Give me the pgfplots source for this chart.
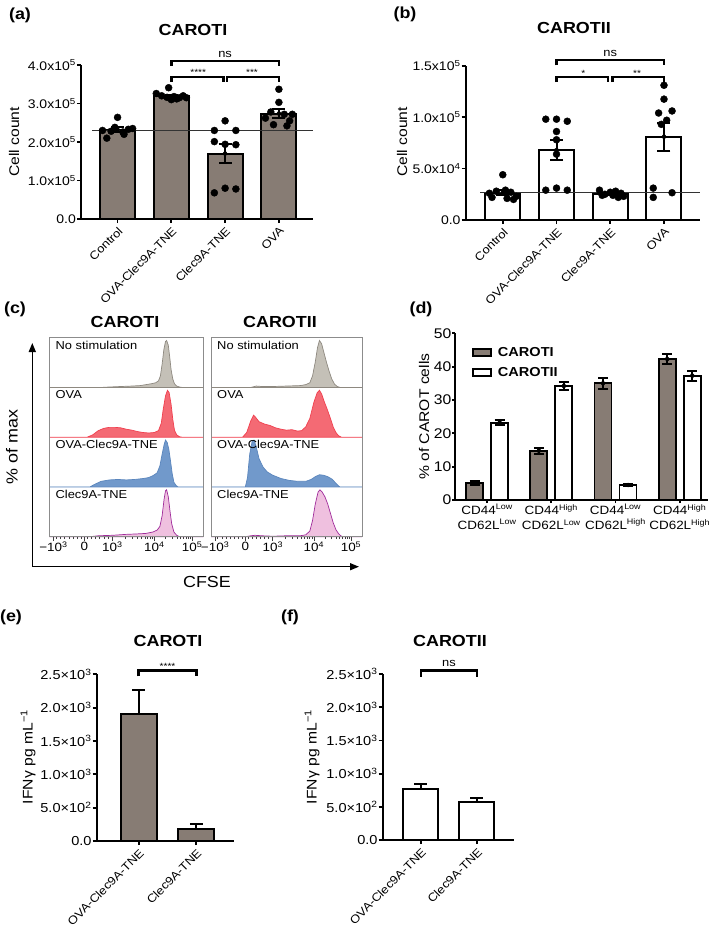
\documentclass[border=0pt]{standalone}
\usepackage{fontspec}
\setmainfont{Liberation Sans}[FakeStretch=1.12]
\usepackage{pgfplots}
\pgfplotsset{compat=1.18}
\usetikzlibrary{arrows.meta}

\definecolor{bargrey}{HTML}{877C74}
\definecolor{hgreyF}{HTML}{C4C0B7}
\definecolor{hgreyL}{HTML}{8E8980}
\definecolor{hredF}{HTML}{F46A74}
\definecolor{hredL}{HTML}{F0404F}
\definecolor{hblueF}{HTML}{7199CB}
\definecolor{hblueL}{HTML}{5B86BD}
\definecolor{hpinkF}{HTML}{EFC0DF}
\definecolor{hpinkL}{HTML}{A02C9B}

\newcommand\tickf{\fontsize{12.5}{14}\selectfont}
\newcommand\rotf{\fontsize{11.5}{13}\selectfont}
\newcommand\labf{\fontsize{14}{16}\selectfont}
\newcommand\titf{\bfseries\fontsize{16}{18}\selectfont}
\newcommand\rowf{\fontsize{11.5}{13}\selectfont}

\pgfplotsset{
  panel/.style={scale only axis, clip=false, axis lines=left,
    axis line style={line width=2.3pt, -},
    every tick/.style={black, line width=1.8pt},
    major tick length=4pt, tick align=outside,
    ticklabel style={font=\tickf},
    yticklabel style={inner xsep=1pt}},
  rotlab/.style={xticklabel style={rotate=45, anchor=north east, inner sep=2pt, font=\rotf}},
  ebar/.style={error bars/.cd, y dir=#1, y explicit,
    error bar style={line width=2pt, black},
    error mark options={rotate=90, line width=2pt, mark size=6.5pt, black}},
  dbar/.style={error bars/.cd, y dir=both, y explicit,
    error bar style={line width=1.8pt, black},
    error mark options={rotate=90, line width=1.8pt, mark size=5pt, black}},
  dots/.style={only marks, mark=*, mark size=3.5pt, black},
}

% one histogram row of panel (c): x, y bottom, width, fill, line, label, data
\newcommand{\histrow}[7]{%
\begin{axis}[scale only axis, hide axis, clip=false, at={(#1pt,-#2pt)}, anchor=south west,
  width=#3pt, height=49.75pt, xmin=-1.25, xmax=4.25, ymin=0, ymax=106]
\addplot[fill=#4, draw=#5, line width=0.7pt] coordinates {#7} \closedcycle;
\node[anchor=north west, inner sep=0pt, font=\rowf] at (rel axis cs:0.04,0.94) {#6};
\end{axis}}

\newcommand{\cframe}[2]{%
\begin{axis}[scale only axis, at={(#1pt,-536.7pt)}, anchor=south west, width=#2pt, height=199pt,
  xmin=-1.25, xmax=4.25, ymin=0, ymax=1,
  axis line style={draw=black!45, line width=0.8pt},
  ytick=\empty, xtick pos=bottom, tick align=outside,
  xtick={-1.1,0,1,2.5,3.85},
  xticklabels={−10\textsuperscript{3},0,10\textsuperscript{3},10\textsuperscript{4},10\textsuperscript{5}},
  minor xtick={-1.0,-0.85,-0.7,-0.55,-0.4,-0.25,-0.12,0.12,0.25,0.4,0.55,0.7,0.85,
    1.45,1.72,1.90,2.05,2.17,2.27,2.35,2.43,2.91,3.14,3.31,3.44,3.55,3.64,3.72,3.79},
  major tick length=4pt, minor tick length=2.5pt,
  every tick/.style={black!75, line width=0.8pt},
  xticklabel style={font=\fontsize{12}{13}\selectfont, inner sep=1pt}]
\end{axis}}

\begin{document}
\begin{tikzpicture}
\path[use as bounding box] (0,0) rectangle (709pt,-930pt);

% ---------------- (a)
\begin{axis}[panel, rotlab, at={(81pt,-219pt)}, anchor=south west, width=232.3pt, height=154pt,
  xmin=-0.68, xmax=3.64, ymin=0, ymax=4,
  xtick={0,1,2,3}, xticklabels={Control,OVA-Clec9A-TNE,Clec9A-TNE,OVA},
  ytick={0,1,2,3,4},
  yticklabels={0.0,1.0x10\textsuperscript{5},2.0x10\textsuperscript{5},3.0x10\textsuperscript{5},4.0x10\textsuperscript{5}}]
\addplot[ybar, bar width=35pt, fill=bargrey, draw=black, line width=2pt]
  coordinates {(0,2.32) (1,3.19) (2,1.70) (3,2.74)};
\addplot[line width=1.3pt, black!80, mark=none] coordinates {(-0.47,2.29) (3.64,2.29)};
\addplot[dots] coordinates {(-0.2,2.10) (0,2.64) (-0.28,2.30) (-0.12,2.28) (0.1,2.26)
  (0.2,2.33) (0.28,2.35) (-0.05,2.38) (0.12,2.20)};
\addplot[dots] coordinates {(0.95,3.41) (0.72,3.26) (1.28,3.15) (0.82,3.20) (0.92,3.16)
  (1.05,3.18) (1.15,3.15) (1.22,3.20) (1,3.10) (1.1,3.12)};
\addplot[dots] coordinates {(2,2.55) (1.8,2.30) (2.2,2.30) (1.8,2.01) (2,1.94) (2.2,1.93)
  (1.8,0.68) (2,0.80) (2.2,0.78)};
\addplot[dots] coordinates {(3,3.37) (3,3.03) (2.85,2.78) (3.25,2.72) (3.1,2.72)
  (2.75,2.62) (3.2,2.55) (2.9,2.45) (3.15,2.42)};
\addplot[only marks, mark=none, ebar=both] coordinates {(0,2.32) +- (0,0.06)
  (1,3.19) +- (0,0.04) (2,1.70) +- (0,0.24) (3,2.74) +- (0,0.12)};
\draw[line width=2.4pt] ([yshift=-5pt]axis cs:1,4.1) -- (axis cs:1,4.1) -- (axis cs:3,4.1) -- ([yshift=-5pt]axis cs:3,4.1);
\draw[line width=2.4pt] ([yshift=-5pt]axis cs:1,3.69) -- (axis cs:1,3.69) -- (axis cs:1.97,3.69) -- ([yshift=-5pt]axis cs:1.97,3.69);
\draw[line width=2.4pt] ([yshift=-5pt]axis cs:2.03,3.69) -- (axis cs:2.03,3.69) -- (axis cs:3,3.69) -- ([yshift=-5pt]axis cs:3,3.69);
\node[font=\fontsize{11.5}{12}\selectfont, anchor=base] at ([yshift=4pt]axis cs:2,4.1) {ns};
\node[font=\fontsize{9}{10}\selectfont, anchor=base] at ([yshift=1pt]axis cs:1.5,3.69) {****};
\node[font=\fontsize{9}{10}\selectfont, anchor=base] at ([yshift=1pt]axis cs:2.5,3.69) {***};
\end{axis}
\node[font=\titf] at (20pt,-15pt) {(a)};
\node[font=\titf] at (193pt,-30pt) {CAROTI};
\node[font=\labf, rotate=90] at (14pt,-142pt) {Cell count};

% ---------------- (b)
\begin{axis}[panel, rotlab, at={(465.7pt,-220pt)}, anchor=south west, width=234.3pt, height=154.3pt,
  xmin=-0.69, xmax=3.67, ymin=0, ymax=1.5,
  xtick={0,1,2,3}, xticklabels={Control,OVA-Clec9A-TNE,Clec9A-TNE,OVA},
  ytick={0,0.5,1,1.5},
  yticklabels={0.0,5.0x10\textsuperscript{4},1.0x10\textsuperscript{5},1.5x10\textsuperscript{5}}]
\addplot[ybar, bar width=35pt, fill=white, draw=black, line width=2pt]
  coordinates {(0,0.267) (1,0.68) (2,0.253) (3,0.81)};
\addplot[line width=1.3pt, black!80, mark=none] coordinates {(-0.42,0.265) (3.67,0.265)};
\addplot[dots] coordinates {(0,0.44) (-0.25,0.26) (-0.12,0.28) (0.05,0.29) (0.15,0.27)
  (0.25,0.23) (-0.2,0.22) (0.08,0.21) (0.2,0.20)};
\addplot[dots] coordinates {(0.8,0.98) (1,0.98) (1.2,0.96) (1,0.86) (1,0.78) (1,0.64)
  (0.8,0.29) (1,0.31) (1.2,0.29)};
\addplot[dots] coordinates {(1.8,0.29) (1.9,0.25) (2,0.27) (2.1,0.28) (2.2,0.26)
  (1.85,0.24) (2.05,0.24) (2.15,0.22) (2.25,0.23)};
\addplot[dots] coordinates {(3,1.31) (3,1.175) (3.15,1.06) (2.9,1.04) (3.05,0.97)
  (2.95,0.93) (2.8,0.31) (3.15,0.265) (2.8,0.22)};
\addplot[only marks, mark=none, ebar=both] coordinates {(0,0.267) +- (0,0.025)
  (1,0.68) +- (0,0.10) (2,0.253) +- (0,0.01) (3,0.81) +- (0,0.135)};
\draw[line width=2.4pt] ([yshift=-5pt]axis cs:1,1.553) -- (axis cs:1,1.553) -- (axis cs:3,1.553) -- ([yshift=-5pt]axis cs:3,1.553);
\draw[line width=2.4pt] ([yshift=-5pt]axis cs:1,1.39) -- (axis cs:1,1.39) -- (axis cs:1.96,1.39) -- ([yshift=-5pt]axis cs:1.96,1.39);
\draw[line width=2.4pt] ([yshift=-5pt]axis cs:2.04,1.39) -- (axis cs:2.04,1.39) -- (axis cs:3,1.39) -- ([yshift=-5pt]axis cs:3,1.39);
\node[font=\fontsize{11.5}{12}\selectfont, anchor=base] at ([yshift=4pt]axis cs:2,1.553) {ns};
\node[font=\fontsize{9}{10}\selectfont, anchor=base] at ([yshift=1pt]axis cs:1.5,1.39) {*};
\node[font=\fontsize{9}{10}\selectfont, anchor=base] at ([yshift=1pt]axis cs:2.5,1.39) {**};
\end{axis}
\node[font=\titf] at (405pt,-14pt) {(b)};
\node[font=\titf] at (574pt,-28pt) {CAROTII};
\node[font=\labf, rotate=90] at (402pt,-142pt) {Cell count};

% ---------------- (c)
\histrow{49.3}{387.45}{154}{hgreyF}{hgreyL}{No stimulation}{(-1.25,0) (0.6,0) (0.9,1) (1.3,2) (1.7,3) (2.0,4) (2.2,6) (2.4,8) (2.55,10) (2.65,14) (2.72,25) (2.78,50) (2.84,80) (2.9,98) (2.94,100) (3.0,90) (3.05,65) (3.1,38) (3.16,18) (3.22,8) (3.3,3) (3.4,1) (3.5,0) (4.25,0)}
\histrow{49.3}{437.2}{154}{hredF}{hredL}{OVA}{(-1.25,0) (0.1,0) (0.3,5) (0.5,14) (0.7,19) (0.9,21) (1.1,21) (1.3,20) (1.5,17) (1.7,15) (1.9,12) (2.1,10) (2.3,9) (2.5,10) (2.65,14) (2.75,30) (2.82,60) (2.9,88) (2.97,100) (3.03,95) (3.1,70) (3.16,38) (3.22,15) (3.3,5) (3.4,1) (3.5,0) (4.25,0)}
\histrow{49.3}{486.95}{154}{hblueF}{hblueL}{OVA-Clec9A-TNE}{(-1.25,0) (0.2,0) (0.35,5) (0.6,12) (0.9,15) (1.2,16) (1.5,15) (1.8,16) (2.1,18) (2.3,20) (2.45,24) (2.6,30) (2.7,45) (2.78,70) (2.85,90) (2.9,100) (2.96,95) (3.02,80) (3.08,55) (3.14,28) (3.2,10) (3.28,3) (3.35,0) (4.25,0)}
\histrow{49.3}{536.7}{154}{hpinkF}{hpinkL}{Clec9A-TNE}{(-1.25,0) (0.2,0) (0.5,2) (1.0,3) (1.5,5) (1.9,6) (2.2,7) (2.45,10) (2.6,14) (2.7,22) (2.78,45) (2.85,80) (2.9,98) (2.94,100) (3.0,85) (3.06,55) (3.12,28) (3.2,10) (3.3,3) (3.4,0) (4.25,0)}
\histrow{211}{387.45}{151}{hgreyF}{hgreyL}{No stimulation}{(-1.25,0) (0.2,0) (0.4,3) (0.6,2) (1.0,2) (1.5,3) (2.0,4) (2.2,6) (2.35,10) (2.45,25) (2.55,55) (2.63,85) (2.7,100) (2.78,93) (2.86,75) (2.95,55) (3.05,35) (3.15,18) (3.25,7) (3.35,2) (3.45,0) (4.25,0)}
\histrow{211}{437.2}{151}{hredF}{hredL}{OVA}{(-1.25,0) (-0.1,0) (0.05,10) (0.2,35) (0.3,47) (0.38,42) (0.5,33) (0.7,28) (0.9,25) (1.1,20) (1.3,17) (1.5,15) (1.7,16) (1.9,13) (2.05,14) (2.2,22) (2.35,40) (2.5,75) (2.62,95) (2.7,100) (2.78,92) (2.88,75) (2.98,60) (3.1,40) (3.2,22) (3.3,10) (3.4,3) (3.5,0) (4.25,0)}
\histrow{211}{486.95}{151}{hblueF}{hblueL}{OVA-Clec9A-TNE}{(-1.25,0) (0.0,0) (0.08,20) (0.16,70) (0.25,98) (0.32,100) (0.4,85) (0.5,60) (0.65,42) (0.8,32) (1.0,25) (1.3,18) (1.6,14) (1.9,12) (2.2,12) (2.4,16) (2.55,22) (2.7,26) (2.85,25) (3.0,22) (3.15,17) (3.3,8) (3.4,2) (3.45,0) (4.25,0)}
\histrow{211}{536.7}{151}{hpinkF}{hpinkL}{Clec9A-TNE}{(-1.25,0) (0.0,0) (0.2,2) (0.35,3) (0.6,2) (1.0,1) (1.5,2) (2.0,2) (2.2,4) (2.35,12) (2.45,35) (2.55,70) (2.65,95) (2.72,100) (2.8,95) (2.9,85) (3.0,70) (3.1,50) (3.2,30) (3.3,15) (3.4,6) (3.5,1) (3.55,0) (4.25,0)}
\cframe{49.3}{154}
\cframe{211}{151}
\draw[line width=1.4pt, -{Triangle[length=9pt, width=7pt]}] (32.3pt,-566.7pt) -- (32.3pt,-343pt);
\draw[line width=1.4pt, -{Triangle[length=9pt, width=7pt]}] (32.3pt,-566.7pt) -- (359pt,-566.7pt);
\node[font=\titf] at (15pt,-309pt) {(c)};
\node[font=\titf] at (125pt,-322pt) {CAROTI};
\node[font=\titf] at (280pt,-322pt) {CAROTII};
\node[font=\fontsize{16}{18}\selectfont, rotate=90] at (12pt,-447pt) {\% of max};
\node[font=\fontsize{16}{18}\selectfont] at (207pt,-582pt) {CFSE};

% ---------------- (d)
\begin{axis}[panel, at={(455pt,-500pt)}, anchor=south west, width=253pt, height=166.7pt,
  xmin=-0.5, xmax=3.44, ymin=0, ymax=50, major tick length=3pt,
  ytick={0,10,20,30,40,50}, yticklabels={0,10,20,30,40,50},
  yticklabel style={font=\fontsize{14}{16}\selectfont, inner xsep=0.5pt},
  xtick={0,1,2,3},
  xticklabels={CD44\textsuperscript{Low}\\CD62L\textsuperscript{Low},
    CD44\textsuperscript{High}\\CD62L\textsuperscript{Low},
    CD44\textsuperscript{Low}\\CD62L\textsuperscript{High},
    CD44\textsuperscript{High}\\CD62L\textsuperscript{High}},
  xticklabel style={align=center, font=\fontsize{12}{15}\selectfont, inner sep=1pt},
  legend style={at={(rel axis cs:0.055,0.94)}, anchor=north west, draw=none, fill=none,
    font=\bfseries\fontsize{13}{15}\selectfont, row sep=5pt, nodes={inner xsep=6pt}},
  legend cell align=left,
  legend image code/.code={\draw[#1, line width=1.8pt] (0pt,-3.5pt) rectangle (18pt,3.5pt);}]
\addplot[ybar, bar width=17pt, bar shift=-12.5pt, fill=bargrey, draw=black, line width=1.8pt]
  coordinates {(0,5.0) (1,14.8) (2,35.0) (3,42.3)};
\addlegendentry{CAROTI}
\addplot[ybar, bar width=17pt, bar shift=12.5pt, fill=white, draw=black, line width=1.8pt]
  coordinates {(0,23.2) (1,34.2) (2,4.5) (3,37.3)};
\addlegendentry{CAROTII}
\addplot[only marks, mark=none, dbar]
  coordinates {(-0.195,5.0) +- (0,0.6) (0.805,14.8) +- (0,0.9) (1.805,35.0) +- (0,1.7) (2.805,42.3) +- (0,1.6)};
\addplot[only marks, mark=none, dbar]
  coordinates {(0.195,23.2) +- (0,0.8) (1.195,34.2) +- (0,1.1) (2.195,4.5) +- (0,0.3) (3.195,37.3) +- (0,1.5)};
\end{axis}
\node[font=\titf] at (421pt,-309pt) {(d)};
\node[font=\labf, rotate=90] at (424pt,-416.7pt) {\% of CAROT cells};

% ---------------- (e)
\begin{axis}[panel, rotlab, at={(96.7pt,-841pt)}, anchor=south west, width=137.6pt, height=166.7pt,
  xmin=-0.73, xmax=1.66, ymin=0, ymax=2.5,
  xtick={0,1}, xticklabels={OVA-Clec9A-TNE,Clec9A-TNE},
  ytick={0,0.5,1,1.5,2,2.5}, yticklabel style={font=\fontsize{13}{14}\selectfont},
  yticklabels={0.0,5.0×10\textsuperscript{2},1.0×10\textsuperscript{3},1.5×10\textsuperscript{3},2.0×10\textsuperscript{3},2.5×10\textsuperscript{3}}]
\addplot[ybar, bar width=36pt, fill=bargrey, draw=black, line width=2pt, ebar=plus]
  coordinates {(0,1.905) +- (0,0.36) (1,0.175) +- (0,0.075)};
\draw[line width=2.6pt] ([yshift=-6pt]axis cs:0,2.56) -- (axis cs:0,2.56) -- (axis cs:1,2.56) -- ([yshift=-6pt]axis cs:1,2.56);
\node[font=\fontsize{9}{10}\selectfont, anchor=base] at ([yshift=1pt]axis cs:0.5,2.56) {****};
\end{axis}
\node[font=\titf] at (11pt,-617pt) {(e)};
\node[font=\titf] at (168pt,-641pt) {CAROTI};
\node[font=\labf, rotate=90] at (28pt,-757pt) {IFNγ pg mL\textsuperscript{−1}};

% ---------------- (f)
\begin{axis}[panel, rotlab, at={(382.7pt,-840pt)}, anchor=south west, width=131.3pt, height=166pt,
  xmin=-0.68, xmax=1.66, ymin=0, ymax=2.5,
  xtick={0,1}, xticklabels={OVA-Clec9A-TNE,Clec9A-TNE},
  ytick={0,0.5,1,1.5,2,2.5}, yticklabel style={font=\fontsize{13}{14}\selectfont},
  yticklabels={0.0,5.0×10\textsuperscript{2},1.0×10\textsuperscript{3},1.5×10\textsuperscript{3},2.0×10\textsuperscript{3},2.5×10\textsuperscript{3}}]
\addplot[ybar, bar width=35pt, fill=white, draw=black, line width=2pt, ebar=plus]
  coordinates {(0,0.77) +- (0,0.075) (1,0.575) +- (0,0.065)};
\draw[line width=2.6pt] ([yshift=-6pt]axis cs:0,2.55) -- (axis cs:0,2.55) -- (axis cs:1,2.55) -- ([yshift=-6pt]axis cs:1,2.55);
\node[font=\fontsize{11.5}{12}\selectfont, anchor=base] at ([yshift=4pt]axis cs:0.5,2.55) {ns};
\end{axis}
\node[font=\titf] at (290pt,-617pt) {(f)};
\node[font=\titf] at (450pt,-641pt) {CAROTII};
\node[font=\labf, rotate=90] at (312pt,-757pt) {IFNγ pg mL\textsuperscript{−1}};

\end{tikzpicture}
\end{document}
